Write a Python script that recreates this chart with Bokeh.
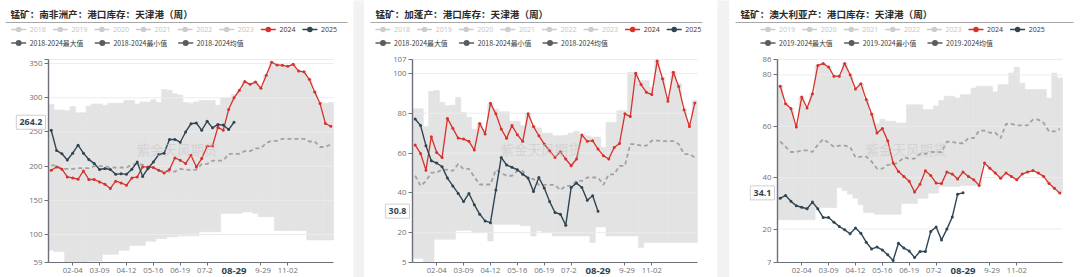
from bokeh.plotting import figure
from bokeh.models import Range1d, FixedTicker, Label
from bokeh.layouts import row, column
from bokeh.embed import file_html
from bokeh.resources import INLINE
from bokeh.core.properties import value

# ---------------- data ----------------
N_WEEKS = 53
TICK_POS = [4, 9, 14, 19, 24, 29, 34, 39, 44]
TICK_LABELS = ["02-04", "03-09", "04-12", "05-16", "06-19", "07-24", "08-29", "09-29", "11-02"]
LATEST_POS = 34
LATEST_LABEL = "08-29"

# South Africa
SA_2024 = [194, 198.8, 195.5, 184.2, 182.8, 180.8, 193, 180.4, 180.4, 176.9, 173.5, 167.3, 178, 175.4, 172,
           182.8, 184.2, 198.8, 198.8, 198, 194, 190, 195, 212, 208.6, 203.8, 216, 198.8, 211, 229, 229.5,
           257, 252.5, 282.7, 300, 311, 323.7, 319.7, 323, 314, 333, 352, 348, 347.5, 346, 349, 339, 338,
           327, 308.5, 291.5, 262.3, 258.3]
SA_2025 = [252.5, 223, 218, 209, 219, 230.6, 219, 209.6, 204, 195, 196.5, 195, 188, 189, 188, 195.5, 206,
           185, 196.5, 206, 217, 219, 239, 239, 235, 250, 262, 263, 252.5, 265.6, 256, 261, 260, 253.5, 264.2]
SA_MAX = [290, 282, 282, 281, 287, 278, 278, 288, 291, 291, 289, 292, 292, 292, 296, 296, 291, 294, 294, 297,
          293, 312, 311, 306, 304, 293, 292, 294, 296, 296, 296, 289, 300, 300, 305, 311, 324, 320, 324, 316,
          333, 352, 349, 348, 347, 350, 340, 339, 328, 310, 293, 292, 293]
SA_MIN = [77, 75, 75, 60, 59, 59, 59, 61, 61, 61, 71, 71, 71, 77, 77, 84, 84, 84, 90, 90, 94, 94, 96.5, 96.5,
          98, 98, 98, 98, 104, 104, 104, 104, 131, 131, 131, 131, 133, 133, 131, 126, 126, 126, 106, 106, 106,
          106, 106, 106, 92, 92, 92, 92, 92]
SA_MEAN = [201, 201, 196, 196, 196, 197, 197, 197, 200, 200, 200, 198, 198, 198, 198, 202, 203, 202, 198, 198,
           193, 193, 192, 192, 196, 195, 194, 195, 203, 203, 208, 208, 208, 218, 218, 218, 222, 222, 226, 226,
           234, 237, 237, 240, 240, 240, 240, 240, 236, 236, 228, 228, 232]

# Gabon
GA_2024 = [64, 59.8, 51.4, 68.2, 60.3, 57.8, 77.4, 72.4, 67.5, 67, 65.9, 61.5, 74.9, 69.6, 85, 79.7, 72.1, 67.4,
           73.8, 69.2, 65.9, 79.7, 73.3, 68.7, 64.5, 61.2, 57.8, 60.7, 57, 53.6, 57, 69.1, 65.9, 66.2, 62, 58.7,
           57, 62.8, 64.8, 79.7, 78.3, 100.1, 94.4, 90.5, 89.4, 106.2, 97.3, 86, 100.6, 93.4, 81.7, 73.3, 85.2]
GA_2025 = [77.1, 73.8, 63.7, 56.1, 55, 53.1, 47.4, 43.5, 39.7, 35.6, 39.7, 34, 29.3, 25.9, 25, 41.4, 57.8, 54,
           52.8, 51.6, 49.4, 47.4, 40.7, 47.7, 42.4, 35.6, 30.1, 29.3, 23.7, 42.7, 44.9, 42.7, 36.3, 38.5, 30.8]
GA_MAX = [82.2, 82.2, 73.3, 91, 91.4, 85.5, 83.8, 84, 88, 80.5, 78, 72, 74.9, 72, 85, 82, 80.8, 80.8, 76, 76,
          73.8, 79.7, 73.3, 72.6, 70, 70, 68.7, 68.7, 69, 70, 71, 69.1, 68.7, 68, 68, 62.8, 75.4, 75.4, 81.3,
          81.3, 100.6, 100.6, 96.4, 96.4, 93, 106.5, 98, 88, 101, 95, 82, 75.4, 86.4]
GA_MIN = [7.1, 7.1, 5, 5, 16.7, 16.7, 16.7, 16.7, 21.2, 21.2, 21.2, 20, 20, 20, 15.8, 24.2, 24.2, 24.2, 24.2,
          24.2, 23.5, 23.5, 18.3, 20.9, 20, 20, 18.3, 18.3, 18.3, 18.3, 18.3, 18.3, 18.3, 15, 22.9, 22.9, 18.3,
          18.3, 18.3, 18.3, 18.3, 18.3, 12.5, 15, 15, 15, 15, 15, 15, 15, 15, 15, 15]
GA_MEAN = [48.6, 43.5, 45.9, 50.2, 50.2, 51.6, 51.6, 51, 54.5, 52, 52, 48, 44.2, 44.2, 44.2, 51.6, 50, 48.6,
           48.6, 51, 51, 47, 47, 44, 44, 44, 44, 41.4, 43.5, 43.5, 46, 46, 47.7, 47.7, 47.7, 44, 49.3, 49.3,
           53.6, 53.6, 64.5, 64.5, 63.7, 63.7, 66.2, 66.2, 66, 66, 66, 64.5, 59.5, 59.5, 57.8]

# Australia
AU_2024 = [75.6, 68.8, 66.9, 59.7, 71.4, 67.1, 72.7, 83.7, 84.4, 83.1, 79.5, 79.5, 84.4, 80.1, 74.5, 76.6, 70.4,
           64.8, 57.4, 59.1, 54.4, 45.7, 42.4, 40.5, 38.6, 34.4, 37.5, 42.7, 40.9, 37.9, 37.7, 42.2, 41.4, 39.5,
           42.2, 40.5, 39.2, 37, 45.7, 43.7, 41.8, 39.8, 41.8, 40.5, 39.2, 41.4, 42.2, 42.8, 41.8, 40.5, 37.7,
           35.9, 34]
AU_2025 = [32, 33.1, 30.8, 29.1, 28.5, 27.9, 30.5, 27.9, 24.5, 24.5, 22.7, 21, 19.7, 18.2, 20.4, 18.4, 14.9,
           12.3, 13, 11.9, 10, 7.8, 14.5, 12.6, 11.5, 8.9, 11.3, 11.3, 19.1, 20.8, 15.8, 20, 24.7, 33.6, 34.1]
AU_MAX = [76, 69, 67, 61, 71.4, 67.1, 72.7, 83.7, 84.4, 83.1, 79.5, 79.5, 84.4, 80.1, 74.5, 76.6, 70.4, 65, 61,
          62.7, 62, 62, 61.3, 61.3, 68.4, 68.4, 68.4, 66.5, 66.5, 67.9, 70, 71.7, 71.7, 71, 72.3, 72.3, 74.9,
          75.6, 75.6, 75.6, 73.4, 76.2, 76.2, 80.7, 83, 76.8, 74.3, 74.3, 74.3, 74.3, 71, 80.7, 78.8]
AU_MIN = [23.6, 23.6, 23.6, 23.6, 23.6, 23.6, 23.6, 28.4, 28.4, 28.4, 28.4, 36.2, 35, 33.6, 32, 29.5, 26.5,
          26.5, 25.8, 25.8, 25.8, 25.8, 25.8, 30, 30, 30, 32, 32, 34, 34, 36.6, 36.6, 36.6, 36.6, 37, 37, 37,
          37, 45.7, 43.7, 41.8, 39.8, 41.8, 40.5, 39.2, 41.4, 42.2, 42.8, 41.8, 40.5, 37.7, 35.9, 34]
AU_MEAN = [54.1, 52, 50, 50, 50.6, 50.6, 50, 52.8, 55, 53.6, 52, 52.5, 52.5, 52, 47.9, 48.2, 48.2, 46.3, 43.5,
           43.5, 45, 45, 46, 47.9, 47.4, 47.4, 49.3, 49.3, 50, 50, 50, 54, 54, 53.4, 53.4, 55.4, 55.4, 58.3,
           58.3, 57.5, 57.5, 55.4, 60.9, 60.9, 60.4, 60.4, 60.4, 62.6, 62.6, 61.3, 58, 58, 59]

PANELS = [
    dict(title="锰矿：南非洲产：港口库存：天津港（周）", width=353, title_x=10, line=(5, 347), legend_x=10.7,
         gray_years=["2018", "2019", "2020", "2021", "2022", "2023"], stat="2018-2024",
         yrange=(59, 356), yticks=[59, 100, 150, 200, 250, 300, 350, 356], yhide=[356],
         y2024=SA_2024, y2025=SA_2025, ymax=SA_MAX, ymin=SA_MIN, ymean=SA_MEAN),
    dict(title="锰矿：加蓬产：港口库存：天津港（周）", width=353, title_x=11, line=(6, 338), legend_x=11,
         gray_years=["2018", "2019", "2020", "2021", "2022", "2023"], stat="2018-2024",
         yrange=(5, 107), yticks=[5, 20, 40, 60, 80, 100, 107], yhide=[],
         y2024=GA_2024, y2025=GA_2025, ymax=GA_MAX, ymin=GA_MIN, ymean=GA_MEAN),
    dict(title="锰矿：澳大利亚产：港口库存：天津港（周）", width=351, title_x=11, line=(6, 344), legend_x=31,
         gray_years=["2019", "2020", "2021", "2022", "2023"], stat="2019-2024",
         yrange=(7, 86), yticks=[7, 20, 40, 60, 80, 86], yhide=[],
         y2024=AU_2024, y2025=AU_2025, ymax=AU_MAX, ymin=AU_MIN, ymean=AU_MEAN),
]

RED = "#d7312c"
NAVY = "#2f4554"
BAND = "#e3e3e3"
MEAN_C = "#a2a2a2"
AXIS_C = "#6e7079"
GAP_C = "#f2f2f2"
CJK = value("Noto Sans CJK SC")
LAT = value("Open Sans")
HEADER_H = 50
PLOT_H = 277 - HEADER_H
# plot-area geometry inside each plot figure (pixels)
FR_LEFT, FR_RIGHT = 48, 333
FR_TOP, FR_BOTTOM = 9, PLOT_H - 15
NB = "\u00a0"


def make_header(cfg):
    W = cfg["width"]
    h = figure(width=W, height=HEADER_H, x_range=Range1d(0, W), y_range=Range1d(HEADER_H, 0),
               output_backend="svg", toolbar_location=None, min_border=0,
               x_axis_location=None, y_axis_location=None)
    h.grid.visible = False
    h.outline_line_color = None
    h.text(x=[cfg["title_x"]], y=[13.5], text=[cfg["title"]], text_font=CJK, text_font_style="bold",
           text_font_size="9.6px", text_baseline="middle", text_color="#2b2b2b")
    h.segment(x0=[cfg["line"][0]], y0=[22], x1=[cfg["line"][1]], y1=[22], line_color="#a8a8a8", line_width=1)

    lx = cfg["legend_x"]
    labels1 = cfg["gray_years"] + ["2024", "2025"]
    icol1 = ["#cccccc"] * len(cfg["gray_years"]) + [RED, NAVY]
    tcol1 = ["#c4c4c4"] * len(cfg["gray_years"]) + ["#333333", "#333333"]
    xs1 = [lx + 41.6 * k for k in range(len(labels1))]
    y1 = 29
    h.segment(x0=xs1, y0=[y1] * len(xs1), x1=[x + 15 for x in xs1], y1=[y1] * len(xs1),
              line_color=icol1, line_width=1.5)
    h.scatter(x=[x + 7.5 for x in xs1], y=[y1] * len(xs1), size=5.5, fill_color=icol1, line_width=0)
    h.text(x=[x + 18.6 for x in xs1], y=[y1] * len(xs1), text=labels1, text_font=LAT,
           text_font_size="7px", text_baseline="middle", text_color=tcol1)

    labels2 = [cfg["stat"] + "最大值", cfg["stat"] + "最小值", cfg["stat"] + "均值"]
    xs2 = [lx, lx + 83.6, lx + 167]
    y2 = 42.5
    h.segment(x0=xs2, y0=[y2] * 3, x1=[x + 15 for x in xs2], y1=[y2] * 3, line_color="#5c5c5c", line_width=1.5)
    h.scatter(x=[x + 7.5 for x in xs2], y=[y2] * 3, size=6, fill_color="#5c5c5c", line_width=0)
    h.text(x=[x + 18.6 for x in xs2], y=[y2] * 3, text=labels2, text_font=CJK,
           text_font_size="6.9px", text_baseline="middle", text_color="#3a3a3a")
    return h


def make_plot(cfg):
    W = cfg["width"]
    ylo, yhi = cfg["yrange"]
    # the frame fills the whole figure; axes are pinned at the data edges so that
    # the pointer labels in the margins stay visible
    pxc = (FR_RIGHT - FR_LEFT) / N_WEEKS
    x0 = -0.5 - FR_LEFT / pxc
    x1 = N_WEEKS - 0.5 + (W - FR_RIGHT) / pxc
    pyu = (FR_BOTTOM - FR_TOP) / (yhi - ylo)
    y0 = ylo - (PLOT_H - FR_BOTTOM) / pyu
    y1 = yhi + FR_TOP / pyu
    p = figure(width=W, height=PLOT_H, x_range=Range1d(x0, x1), y_range=Range1d(y0, y1),
               output_backend="svg", toolbar_location=None, min_border=0)
    p.outline_line_color = None
    p.grid.visible = False
    p.background_fill_color = "white"

    idx = list(range(N_WEEKS))
    p.vbar(x=idx, width=1.0, bottom=cfg["ymin"], top=cfg["ymax"], fill_color=BAND,
           line_color=BAND, line_width=0.6)
    gy = [t for t in cfg["yticks"] if t != ylo]
    p.segment(x0=[-0.5] * len(gy), y0=gy, x1=[N_WEEKS - 0.5] * len(gy), y1=gy, line_color="#ececec",
              line_width=1)
    p.line(idx, cfg["ymean"], line_color=MEAN_C, line_width=1.8, line_dash="4 3")

    p.line(idx, cfg["y2024"], line_color=RED, line_width=1.3)
    p.scatter(idx, cfg["y2024"], size=3, fill_color=RED, line_width=0)
    i25 = list(range(len(cfg["y2025"])))
    p.line(i25, cfg["y2025"], line_color=NAVY, line_width=1.4)
    p.scatter(i25, cfg["y2025"], size=3, fill_color=NAVY, line_width=0)

    # axes
    xa = p.xaxis[0]
    xa.fixed_location = ylo
    xa.bounds = (-0.5, N_WEEKS - 0.5)
    xa.ticker = FixedTicker(ticks=TICK_POS)
    xa.major_label_overrides = {t: l for t, l in zip(TICK_POS, TICK_LABELS)}
    xa.major_tick_out = 3
    xa.major_tick_in = 0
    xa.minor_tick_line_color = None
    xa.major_label_standoff = 2
    xa.axis_line_color = AXIS_C
    xa.axis_line_width = 1.2
    xa.major_tick_line_color = AXIS_C
    xa.major_label_text_color = AXIS_C
    xa.major_label_text_font = "Open Sans"
    xa.major_label_text_font_size = "7.7px"

    ya = p.yaxis[0]
    ya.fixed_location = -0.5
    ya.bounds = (ylo, yhi)
    ya.ticker = FixedTicker(ticks=cfg["yticks"])
    ya.major_label_overrides = {t: ("" if t in cfg["yhide"] else str(t)) for t in cfg["yticks"]}
    ya.major_tick_out = 4
    ya.major_tick_in = 0
    ya.minor_tick_line_color = None
    ya.major_label_standoff = 2
    ya.axis_line_color = AXIS_C
    ya.axis_line_width = 1.4
    ya.major_tick_line_color = AXIS_C
    ya.major_label_text_color = AXIS_C
    ya.major_label_text_font = "Open Sans"
    ya.major_label_text_font_size = "7.8px"

    # watermark
    p.add_layout(Label(x=136, y=PLOT_H - 98, x_units="screen", y_units="screen", text="紫金天风期货",
                       text_font="Noto Sans CJK SC", text_font_size="13.5px", text_color="#c4c4c4",
                       text_alpha=0.55, text_baseline="middle"))
    # axis pointer labels
    last = cfg["y2025"][-1]
    p.add_layout(Label(x=FR_LEFT - 3, y=last, x_units="screen", y_units="data", text=NB + f"{last:.1f}" + NB,
                       text_align="right", text_baseline="middle", text_font="Open Sans",
                       text_font_style="bold", text_font_size="8.8px", text_color=NAVY,
                       background_fill_color="white", border_line_color="#cfcfcf", padding=1))
    p.add_layout(Label(x=LATEST_POS, y=7, x_units="data", y_units="screen",
                       text=NB * 3 + LATEST_LABEL + NB * 3,
                       text_align="center", text_baseline="middle", text_font="Open Sans",
                       text_font_style="bold", text_font_size="9.6px", text_color=NAVY,
                       background_fill_color="white", padding=1))
    return p


def make_gap(w):
    g = figure(width=w, height=277, output_backend="svg", toolbar_location=None, min_border=0,
               x_axis_location=None, y_axis_location=None, x_range=Range1d(0, 1), y_range=Range1d(0, 1))
    g.grid.visible = False
    g.outline_line_color = None
    g.background_fill_color = GAP_C
    g.border_fill_color = GAP_C
    g.scatter([0.5], [0.5], size=0, fill_alpha=0, line_alpha=0)
    return g


cols = [column(make_header(c), make_plot(c), spacing=0) for c in PANELS]
layout = row(cols[0], make_gap(11), cols[1], make_gap(12), cols[2], spacing=0)

open("out.html", "w").write(file_html(layout, INLINE))
